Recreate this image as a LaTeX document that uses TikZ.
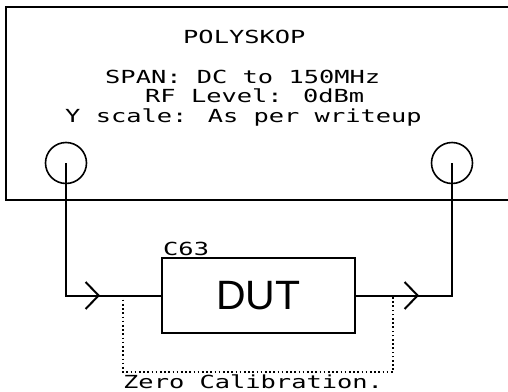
\documentclass[tikz,border=0pt]{standalone}
\usepackage{fontspec}
\setmainfont{DejaVu Sans Mono}
\newfontfamily\plotfont{DejaVu Sans Mono}
\newfontfamily\bigfont{Liberation Sans}
\usetikzlibrary{arrows.meta,decorations.markings}
\newcommand{\wide}[1]{\scalebox{1.41}[1]{#1}}
\begin{document}
\begin{tikzpicture}[x=1pt,y=-1pt,
  wire/.style={line width=2pt},
  dotwire/.style={line width=1.8pt,dash pattern=on 1.6pt off 2.6pt},
  port/.style={circle,draw,line width=1.6pt,minimum size=41pt,inner sep=0pt},
  txt/.style={anchor=base west,inner sep=0pt,font=\plotfont\fontsize{18}{20}\selectfont},
  chev/.tip={Straight Barb[length=13pt,width=27pt,line width=2pt]},
  arrowat/.style={postaction={decorate},decoration={markings,mark=at position #1 with {\arrow{chev}}}}]
\useasboundingbox (0,0) rectangle (508,391);
% instrument box (open to the right)
\draw[wire] (508,7) -- (6,7) -- (6,200) -- (508,200);
\node[txt] (title) at (183,43) {\wide{POLYSKOP}};
\node[txt] (span) at (105,83) {\wide{SPAN: DC to 150MHz}};
\node[txt] (rf) at (145,102) {\wide{RF Level: 0dBm}};
\node[txt] (ysc) at (65,122) {\wide{Y scale: As per writeup}};
% ports
\node[port] (inL) at (66,163) {};
\node[port] (inR) at (452,163) {};
% DUT
\node[draw,line width=2pt,minimum width=193pt,minimum height=75pt,inner sep=0pt,
      font=\bigfont\fontsize{41}{44}\selectfont] (dut) at (258.5,295.5) {DUT};
\node[txt] (c63) at (163,255) {\wide{C63}};
% connections
\draw[wire,arrowat=166.5pt] (inL.center) |- (dut.west);
\draw[wire,arrowat=63pt] (dut.east) -| (inR.center);
% zero calibration bypass
\coordinate (zl) at (123,295.5);
\coordinate (zr) at (393,295.5);
\coordinate (zb) at (123,372);
\draw[dotwire] (zl) -- (zb) -| (zr);
\node[txt] (zero) at (123,388) {\wide{Zero  Calibration.}};
\end{tikzpicture}
\end{document}
